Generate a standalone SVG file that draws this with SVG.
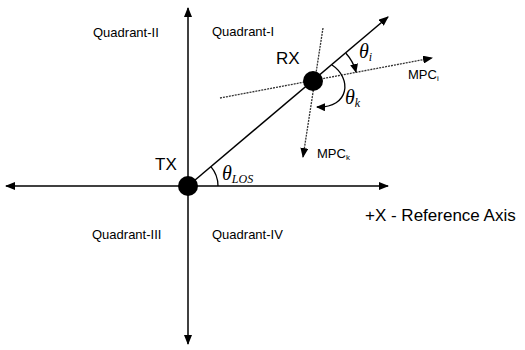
<svg xmlns="http://www.w3.org/2000/svg" width="525" height="350" viewBox="0 0 525 350">
<style>
.ax{stroke:#000;stroke-width:1.5;fill:none}
.dot{stroke:#333;stroke-width:1.3;stroke-dasharray:2 1;fill:none}
.arc{stroke:#000;stroke-width:1.3;fill:none}
.lbl{font-family:"Liberation Sans",Arial,sans-serif;font-size:13px;fill:#000}
.big{font-family:"Liberation Sans",Arial,sans-serif;font-size:17px;fill:#000}
.th{font-family:"Liberation Serif","DejaVu Serif",serif;font-style:italic;fill:#000}
</style>
<defs>
<marker id="ah" markerWidth="10" markerHeight="8" refX="9" refY="4" orient="auto" markerUnits="userSpaceOnUse"><path d="M0,0 L10,4 L0,8 Z" fill="#000"/></marker>
<marker id="ahs" markerWidth="9" markerHeight="8" refX="8" refY="4" orient="auto" markerUnits="userSpaceOnUse"><path d="M0,0 L9,4 L0,8 Z" fill="#000"/></marker>
</defs>
<g id="connectors">
<line class="ax" x1="188" y1="186" x2="188" y2="8" marker-end="url(#ah)"/>
<line class="ax" x1="188" y1="186" x2="188" y2="344" marker-end="url(#ah)"/>
<line class="ax" x1="188" y1="186" x2="6" y2="186" marker-end="url(#ah)"/>
<line class="ax" x1="188" y1="186" x2="388" y2="186" marker-end="url(#ah)"/>
<line class="ax" x1="188" y1="186" x2="388" y2="17" marker-end="url(#ah)"/>
<line class="dot" x1="220" y1="98" x2="432" y2="58" marker-end="url(#ah)"/>
<line class="dot" x1="323" y1="28" x2="303" y2="157" marker-end="url(#ah)"/>
<path class="arc" d="M218,186 A30,30 0 0 0 210.9,166.6"/>
<path class="arc" d="M345.9,53.2 A43,43 0 0 1 356,72" marker-end="url(#ahs)"/>
<path class="arc" d="M332,65 C352,78 350,108 317,107" marker-end="url(#ahs)"/>
</g>
<g id="tx"><circle cx="188" cy="186" r="10" fill="#000"/><text class="big" x="155" y="170">TX</text></g>
<g id="rx"><circle cx="313" cy="81" r="10" fill="#000"/><text class="big" x="276" y="64">RX</text></g>
<g id="labels">
<text class="lbl" x="93" y="37">Quadrant-II</text>
<text class="lbl" x="212" y="36">Quadrant-I</text>
<text class="lbl" x="92" y="239">Quadrant-III</text>
<text class="lbl" x="212" y="239">Quadrant-IV</text>
<text class="big" x="365" y="221">+X - Reference Axis</text>
<text class="lbl" x="408" y="79" font-size="12">MPC<tspan font-size="8" dy="2">i</tspan></text>
<text class="lbl" x="317" y="158" font-size="12">MPC<tspan font-size="8" dy="2">k</tspan></text>
<text class="th" x="222" y="180" font-size="20">θ<tspan font-size="12" dy="3">LOS</tspan></text>
<text class="th" x="359" y="58" font-size="20">θ<tspan font-size="12" dy="3">i</tspan></text>
<text class="th" x="345" y="104" font-size="20">θ<tspan font-size="12" dy="3">k</tspan></text>
</g>
</svg>
